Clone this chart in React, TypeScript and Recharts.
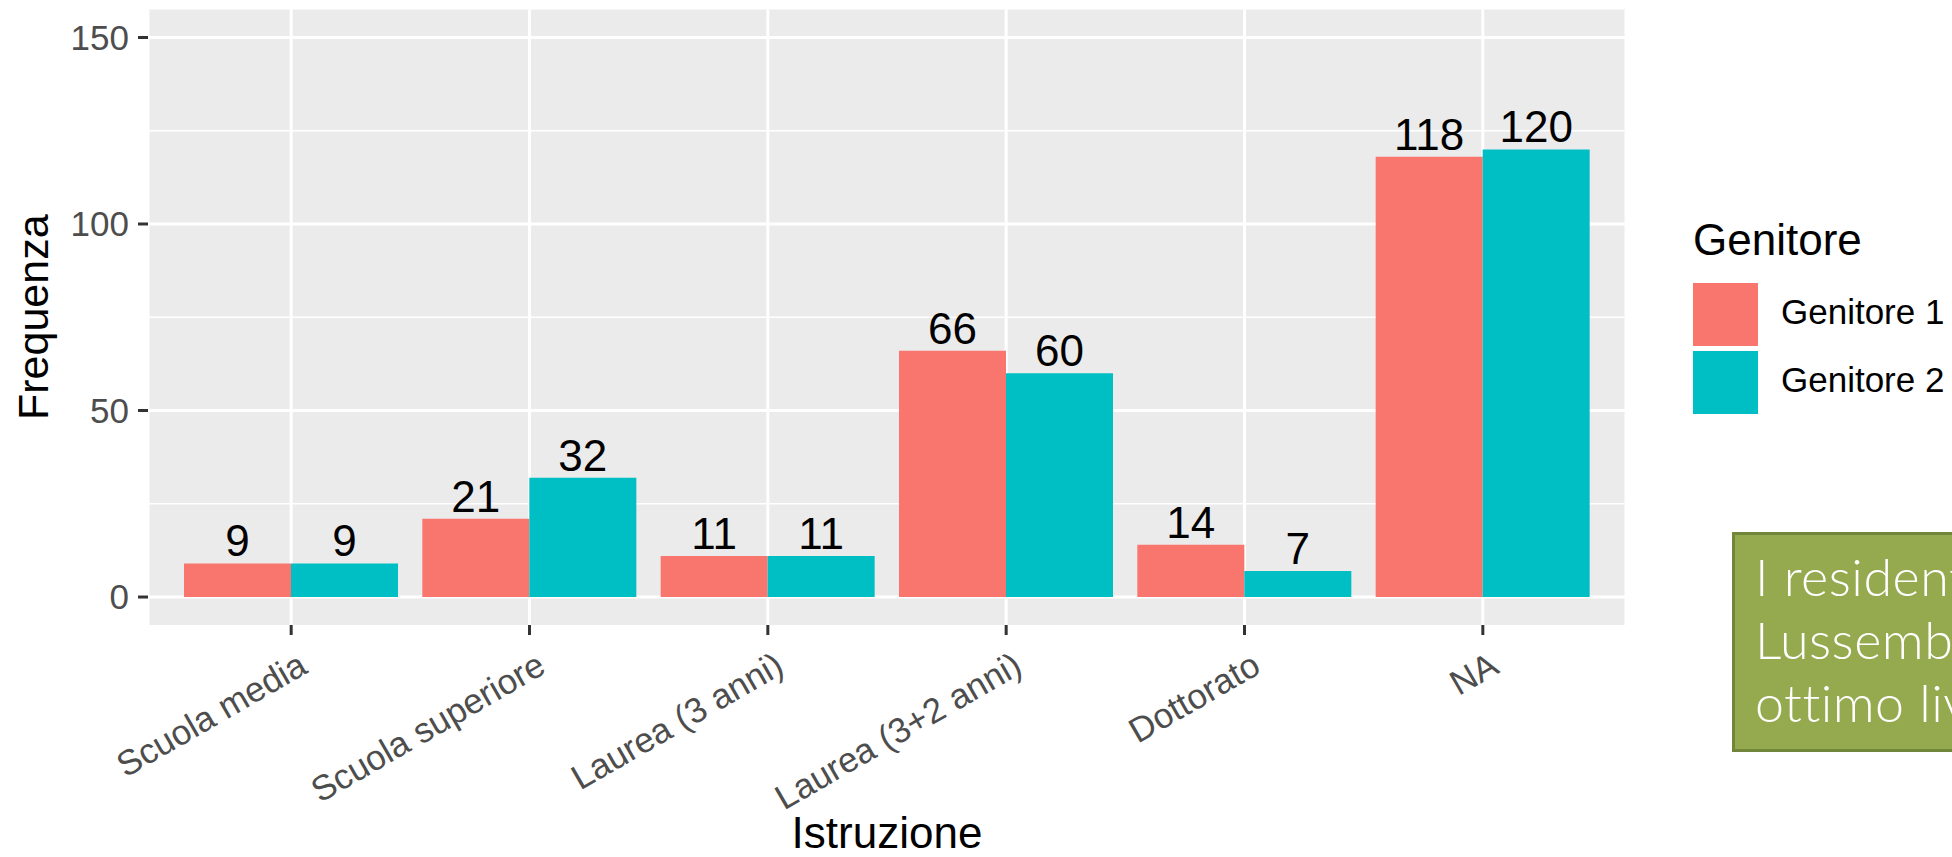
import React from "react";
import {
  Bar,
  BarChart,
  CartesianGrid,
  Label,
  LabelList,
  Legend,
  XAxis,
  YAxis,
} from "recharts";

const categories = [
  "Scuola media",
  "Scuola superiore",
  "Laurea (3 anni)",
  "Laurea (3+2 anni)",
  "Dottorato",
  "NA",
];
const genitore1 = [9, 21, 11, 66, 14, 118];
const genitore2 = [9, 32, 11, 60, 7, 120];
const yTicks = [0, 50, 100, 150];
const yMinor = [25, 75, 125];
const boxLines = ["I residenti", "Lussemburgo", "ottimo livello"];

const FONT = "'Liberation Sans', Arial, Helvetica, sans-serif";
const RED = "#F8766D";
const TEAL = "#00BFC4";

const data = categories.map((c, i) => ({
  name: c,
  g1: genitore1[i],
  g2: genitore2[i],
}));

function XTick({ x, y, payload }: any) {
  return (
    <g transform={`translate(${x + 18},${y + 37})`}>
      <text
        textAnchor="end"
        transform="rotate(-30)"
        fontSize={35}
        fill="#4d4d4d"
        fontFamily={FONT}>
        {payload.value}
      </text>
    </g>
  );
}

function YTitle(props: any) {
  const vb = props.viewBox || { x: 0, y: 9.5, width: 148, height: 615.5 };
  const cx = vb.x + 48;
  const cy = vb.y + vb.height / 2;
  return (
    <text
      x={cx}
      y={cy}
      transform={`rotate(-90, ${cx}, ${cy})`}
      textAnchor="middle"
      fontSize={43}
      fill="#000"
      fontFamily={FONT}>
      Frequenza
    </text>
  );
}

function XTitle(props: any) {
  const vb = props.viewBox || { x: 148, y: 625, width: 1478, height: 232 };
  return (
    <text
      x={vb.x + vb.width / 2}
      y={vb.y + 223}
      textAnchor="middle"
      fontSize={44}
      fill="#000"
      fontFamily={FONT}>
      Istruzione
    </text>
  );
}

function LegendBox({ payload }: any) {
  return (
    <div style={{ position: "relative", width: 260, height: 200, fontFamily: FONT }}>
      <div
        style={{
          position: "absolute",
          left: 0,
          top: 0,
          fontSize: 44,
          lineHeight: "44px",
          color: "#000",
          whiteSpace: "nowrap",
        }}>
        Genitore
      </div>
      {(payload || []).map((p: any, i: number) => (
        <div
          key={i}
          style={{
            position: "absolute",
            left: 0,
            top: 65 + i * 68,
            height: 63,
            display: "flex",
            alignItems: "center",
          }}>
          <div style={{ width: 65, height: 63, background: p.color }} />
          <span
            style={{
              marginLeft: 23,
              marginTop: -6,
              fontSize: 35,
              lineHeight: "35px",
              color: "#000",
              whiteSpace: "nowrap",
            }}>
            {p.value}
          </span>
        </div>
      ))}
    </div>
  );
}

export default function App() {
  return (
    <div
      style={{
        position: "fixed",
        left: 0,
        top: 0,
        width: 1952,
        height: 857,
        overflow: "hidden",
        background: "#fff",
        fontFamily: FONT,
      }}>
      <BarChart
        width={1952}
        height={857}
        data={data}
        margin={{ top: 9.5, right: 326, bottom: 0, left: 0 }}
        barGap={0}>
        <CartesianGrid
          fill="#EBEBEB"
          stroke="#fff"
          strokeWidth={1.5}
          vertical={false}
          horizontalValues={yMinor}
        />
        <CartesianGrid
          stroke="#fff"
          strokeWidth={3}
          horizontalValues={yTicks}
        />
        <XAxis
          dataKey="name"
          height={232}
          padding={{ left: 24, right: 24 }}
          axisLine={false}
          tickSize={10}
          tickMargin={0}
          tickLine={{ stroke: "#333", strokeWidth: 3 }}
          tick={<XTick />}
          interval={0}>
          <Label content={<XTitle />} />
        </XAxis>
        <YAxis
          width={148}
          domain={[-7.5, 157.5]}
          ticks={yTicks}
          allowDataOverflow
          axisLine={false}
          tickSize={10}
          tickMargin={9}
          tickLine={{ stroke: "#333", strokeWidth: 3 }}
          tick={{ fontSize: 35, fill: "#4d4d4d", fontFamily: FONT }}>
          <Label content={<YTitle />} />
        </YAxis>
        <Legend
          layout="horizontal"
          align="center"
          verticalAlign="middle"
          content={<LegendBox />}
          wrapperStyle={{ position: "absolute", left: 1693, top: 218, width: 260, height: 200 }}
        />
        <Bar dataKey="g1" name="Genitore 1" fill={RED} barSize={107} isAnimationActive={false}>
          <LabelList dataKey="g1" position="top" offset={7} fontSize={44} fill="#000" fontFamily={FONT} />
        </Bar>
        <Bar dataKey="g2" name="Genitore 2" fill={TEAL} barSize={107} isAnimationActive={false}>
          <LabelList dataKey="g2" position="top" offset={7} fontSize={44} fill="#000" fontFamily={FONT} />
        </Bar>
      </BarChart>
      <div
        style={{
          position: "absolute",
          left: 1732,
          top: 532,
          width: 400,
          height: 220,
          boxSizing: "border-box",
          background: "#95A94E",
          border: "3px solid #71863A",
          padding: "10px 0 0 20px",
          color: "#fff",
          fontFamily: "Lato, 'Noto Sans', sans-serif",
          fontWeight: 300,
          fontSize: 52,
          letterSpacing: 0.5,
          lineHeight: "63px",
          whiteSpace: "nowrap",
        }}>
        {boxLines.map((l, i) => (
          <div key={i}>{l}</div>
        ))}
      </div>
    </div>
  );
}
